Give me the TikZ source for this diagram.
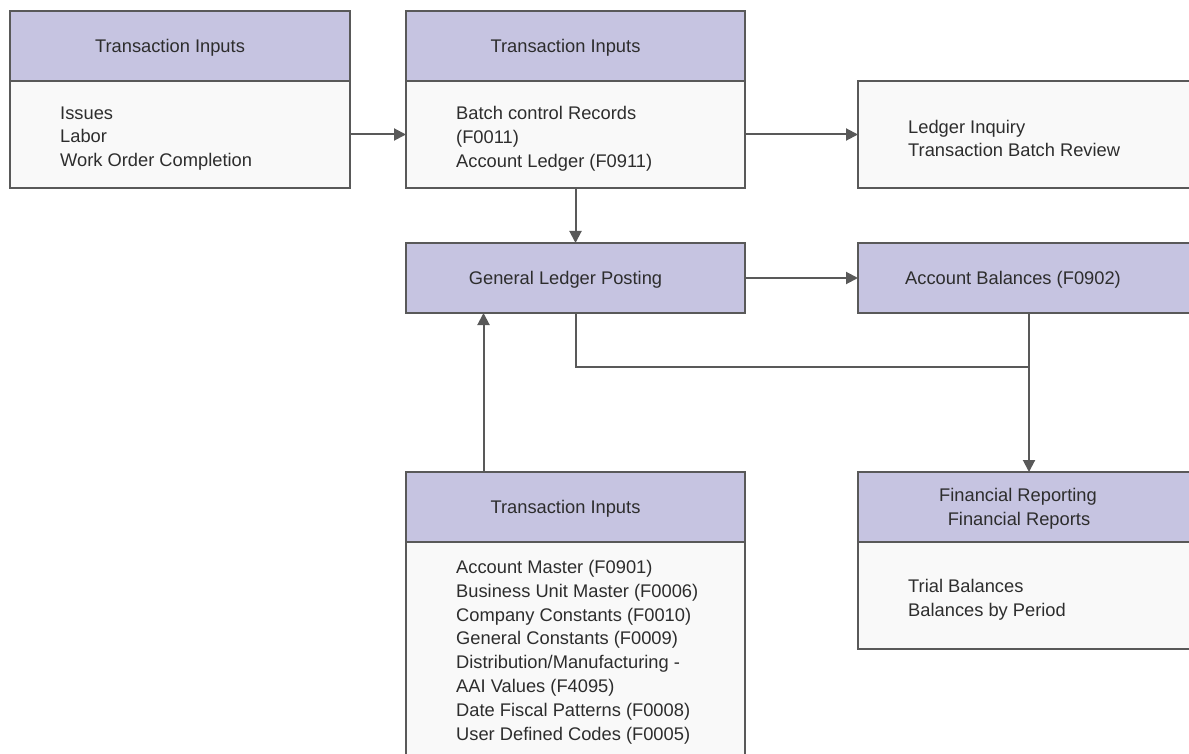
\documentclass[tikz,border=0pt]{standalone}
\usepackage{fontspec}
\setmainfont{Liberation Sans}
\usetikzlibrary{positioning,arrows.meta}
\definecolor{hdrfill}{RGB}{198,196,225}
\definecolor{bodyfill}{RGB}{249,249,249}
\definecolor{edge}{RGB}{89,89,89}
\definecolor{ink}{RGB}{45,45,45}
\tikzset{
  boxbase/.style={draw=edge,line width=2pt,outer sep=0pt,inner sep=0pt,minimum width=339pt,
    font=\fontsize{18.3}{23.8}\selectfont,text=ink},
  hdr/.style={boxbase,fill=hdrfill,minimum height=70pt,align=center,text depth=0pt},
  bodybox/.style={boxbase,fill=bodyfill},
  items/.style={inner sep=0pt,align=left,yshift=-4pt,font=\fontsize{18.3}{23.8}\selectfont,text=ink},
  wide/.style={minimum width=362pt},
  conn/.style={draw=edge,line width=2pt,-{Triangle[length=12pt,width=12pt]}},
  plain/.style={draw=edge,line width=2pt}
}
\newcommand{\padr}[1][20pt]{\hspace*{#1}}
\begin{document}
\begin{tikzpicture}[x=1pt,y=-1pt]
  \useasboundingbox (0,0) rectangle (1189,754);
  \clip (0,0) rectangle (1189,754);

  % top row
  \node[hdr,minimum width=340pt] (inp1) at (180,46) {Transaction Inputs\padr};
  \node[bodybox,minimum width=340pt,minimum height=107pt,below=0pt of inp1] (inp1b) {};
  \node[items,right=50pt of inp1b.west] (inp1t) {Issues\\Labor\\Work Order Completion};

  \node[hdr,right=56pt of inp1] (inp2) {Transaction Inputs\padr};
  \node[bodybox,minimum height=107pt,below=0pt of inp2] (inp2b) {};
  \node[items,right=50pt of inp2b.west] (inp2t) {Batch control Records\\(F0011)\\Account Ledger (F0911)};

  \node[bodybox,wide,minimum height=107pt,right=113pt of inp2b] (rev) {};
  \node[items,right=50pt of rev.west] (revt) {Ledger Inquiry\\Transaction Batch Review};

  % middle row
  \node[hdr,below=55pt of inp2b] (glp) {General Ledger Posting\padr};
  \node[hdr,wide,right=113pt of glp] (ab) {Account Balances (F0902)\padr[52pt]};

  % bottom row
  \node[hdr,below=159pt of glp] (inp3) {Transaction Inputs\padr};
  \node[bodybox,minimum height=230pt,below=0pt of inp3] (inp3b) {};
  \node[items,below right=24pt and 50pt of inp3b.north west,anchor=north west,yshift=10pt] (inp3t)
    {Account Master (F0901)\\Business Unit Master (F0006)\\Company Constants (F0010)\\General Constants (F0009)\\Distribution/Manufacturing -\\AAI Values (F4095)\\Date Fiscal Patterns (F0008)\\User Defined Codes (F0005)};

  \node[hdr,wide,below=159pt of ab] (fin) {Financial Reporting\padr[42pt]\\Financial Reports\padr[40pt]};
  \node[bodybox,wide,minimum height=107pt,below=0pt of fin] (finb) {};
  \node[items,right=50pt of finb.west] (fint) {Trial Balances\\Balances by Period};

  % connectors
  \draw[conn] (inp1b.east) -- (inp2b.west);
  \draw[conn] (inp2b.east) -- (rev.west);
  \draw[conn] (inp2b.south) -- (glp.north);
  \draw[conn] (glp.east) -- (ab.west);
  \coordinate (jn) at ([xshift=-10pt,yshift=-54pt]ab.south);
  \draw[plain] (glp.south) |- (jn);
  \draw[conn] (jn |- ab.south) -- (jn |- fin.north);
  \draw[conn] ([xshift=-92pt]inp3.north) -- ([xshift=-92pt]inp3.north |- glp.south);
\end{tikzpicture}
\end{document}
